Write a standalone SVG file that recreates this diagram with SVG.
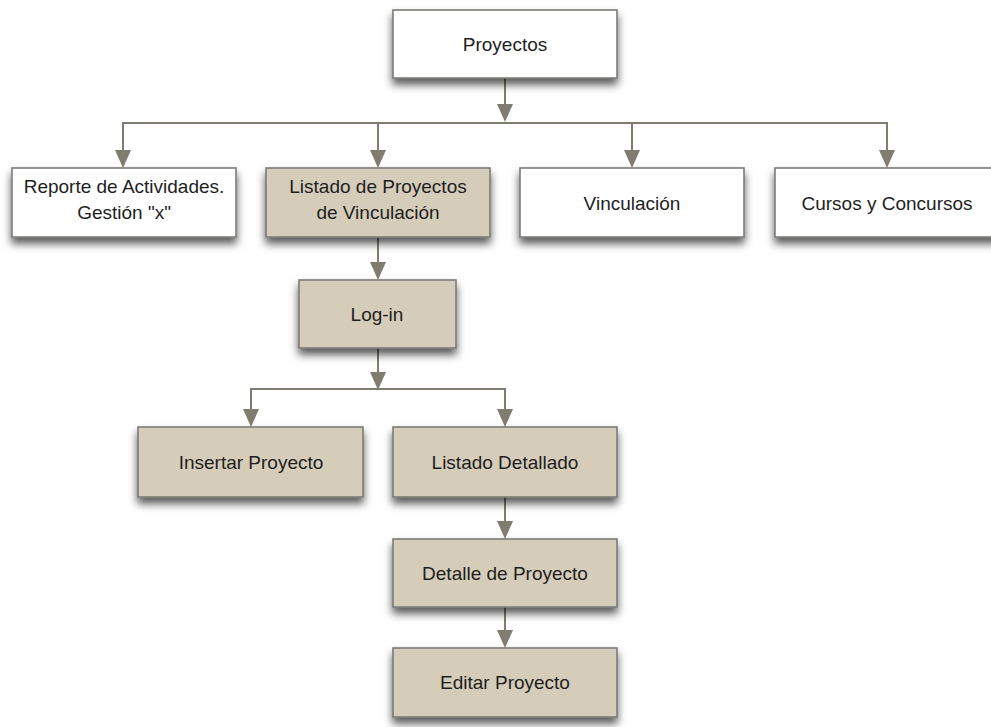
<svg xmlns="http://www.w3.org/2000/svg" width="991" height="727" viewBox="0 0 991 727">
<defs>
<filter id="sh" x="-10%" y="-20%" width="120%" height="170%">
<feDropShadow dx="0" dy="6" stdDeviation="4" flood-color="#000" flood-opacity="0.65"/>
</filter>
<style>
.box{stroke:#7b7b76;stroke-width:1.6}
.w{fill:#ffffff}
.t{fill:#d6ccba}
.lbl{font-family:"Liberation Sans",Arial,sans-serif;font-size:19px;fill:#1e1e1e;text-anchor:middle}
.c{fill:none;stroke:#817c70;stroke-width:2}
.ah{fill:#817c70}
</style>
</defs>
<rect width="991" height="727" fill="#ffffff"/>
<g id="connectors">
<path class="c" d="M505,78 V104"/>
<path class="ah" d="M497,104 L513,104 L505,122 Z"/>
<path class="c" d="M123,150 V123 H887 V150"/>
<path class="c" d="M378,123 V150 M632,123 V150"/>
<path class="ah" d="M115,150 L131,150 L123,168 Z M370,150 L386,150 L378,168 Z M624,150 L640,150 L632,168 Z M879,150 L895,150 L887,168 Z"/>
<path class="c" d="M378,237 V262"/>
<path class="ah" d="M370,262 L386,262 L378,280 Z"/>
<path class="c" d="M378,348 V372"/>
<path class="ah" d="M370,372 L386,372 L378,390 Z"/>
<path class="c" d="M251,409 V389 H505 V409"/>
<path class="ah" d="M243,409 L259,409 L251,427 Z M497,409 L513,409 L505,427 Z"/>
<path class="c" d="M505,497 V521"/>
<path class="ah" d="M497,521 L513,521 L505,539 Z"/>
<path class="c" d="M505,607 V630"/>
<path class="ah" d="M497,630 L513,630 L505,648 Z"/>
</g>
<g id="proyectos">
<rect class="box w" x="393" y="10" width="224" height="68" filter="url(#sh)"/>
<text class="lbl" x="505" y="51">Proyectos</text>
</g>
<g id="reporte">
<rect class="box w" x="12" y="168" width="224" height="69" filter="url(#sh)"/>
<text class="lbl" x="124" y="193">Reporte de Actividades.</text>
<text class="lbl" x="124" y="219">Gestión "x"</text>
</g>
<g id="listado">
<rect class="box t" x="266" y="168" width="224" height="69" filter="url(#sh)"/>
<text class="lbl" x="378" y="193">Listado de Proyectos</text>
<text class="lbl" x="378" y="219">de Vinculación</text>
</g>
<g id="vinculacion">
<rect class="box w" x="520" y="168" width="224" height="69" filter="url(#sh)"/>
<text class="lbl" x="632" y="210">Vinculación</text>
</g>
<g id="cursos">
<rect class="box w" x="775" y="168" width="230" height="69" filter="url(#sh)"/>
<text class="lbl" x="887" y="210">Cursos y Concursos</text>
</g>
<g id="login">
<rect class="box t" x="299" y="280" width="157" height="68" filter="url(#sh)"/>
<text class="lbl" x="377" y="321">Log-in</text>
</g>
<g id="insertar">
<rect class="box t" x="138" y="427" width="225" height="70" filter="url(#sh)"/>
<text class="lbl" x="251" y="469">Insertar Proyecto</text>
</g>
<g id="listado-detallado">
<rect class="box t" x="393" y="427" width="224" height="70" filter="url(#sh)"/>
<text class="lbl" x="505" y="469">Listado Detallado</text>
</g>
<g id="detalle">
<rect class="box t" x="393" y="539" width="224" height="68" filter="url(#sh)"/>
<text class="lbl" x="505" y="580">Detalle de Proyecto</text>
</g>
<g id="editar">
<rect class="box t" x="393" y="648" width="224" height="69" filter="url(#sh)"/>
<text class="lbl" x="505" y="689">Editar Proyecto</text>
</g>
</svg>
